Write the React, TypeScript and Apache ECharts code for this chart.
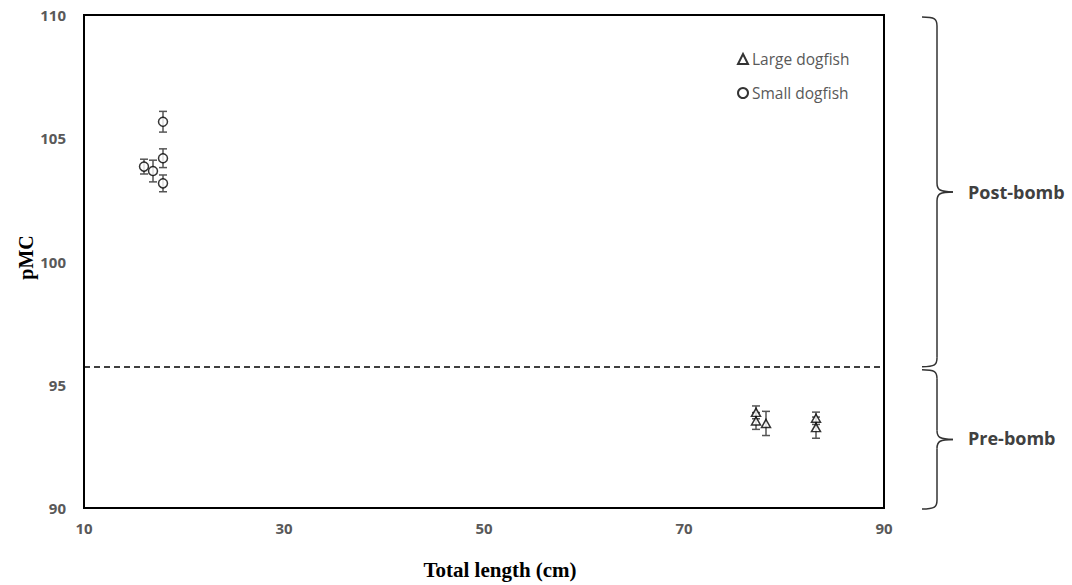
import React, { useEffect, useRef } from "react";
import * as echarts from "echarts";

// Total length (cm) and radiocarbon (pMC) with 1σ uncertainty
const smallLength = [17.9, 17.9, 16.0, 16.9, 17.9];
const smallPmc = [105.67, 104.19, 103.85, 103.67, 103.17];
const smallErr = [0.42, 0.38, 0.3, 0.44, 0.34];

const largeLength = [77.2, 77.2, 78.2, 83.2, 83.2];
const largePmc = [93.88, 93.53, 93.43, 93.64, 93.26];
const largeErr = [0.26, 0.34, 0.49, 0.25, 0.43];

// Bomb-pulse threshold and axis ranges
const bombThreshold = 95.73;
const xTicks = { min: 10, max: 90, interval: 20 };
const yTicks = { min: 90, max: 110, interval: 5 };
const periodLabels = ["Post-bomb", "Pre-bomb"];

const TICK_FONT = "'Open Sans', 'Liberation Sans', sans-serif";
const SERIF = "'Liberation Serif', 'DejaVu Serif', serif";

function errorRows(xs: number[], ys: number[], es: number[]) {
  return xs.map((x, i) => [x, ys[i] - es[i], ys[i] + es[i]]);
}

function errorBarItem(params: any, api: any) {
  const x = api.value(0);
  const lo = api.coord([x, api.value(1)]);
  const hi = api.coord([x, api.value(2)]);
  const cap = 4;
  const style = { stroke: "#555", lineWidth: 1.5 };
  return {
    type: "group",
    children: [
      { type: "line", shape: { x1: lo[0], y1: lo[1], x2: hi[0], y2: hi[1] }, style },
      { type: "line", shape: { x1: lo[0] - cap, y1: lo[1], x2: lo[0] + cap, y2: lo[1] }, style },
      { type: "line", shape: { x1: hi[0] - cap, y1: hi[1], x2: hi[0] + cap, y2: hi[1] }, style },
    ],
  };
}

// Curly brace from yTop to yBottom, spine at sx, opening to the left at ex, tip at tx
function brace(yTop: number, yBottom: number, ex: number, sx: number, tx: number) {
  const ym = (yTop + yBottom) / 2;
  const r = 9;
  const style = { stroke: "#333", lineWidth: 1.5, fill: null };
  return [
    { type: "bezierCurve", shape: { x1: ex, y1: yTop, cpx1: sx - 2, cpy1: yTop, cpx2: sx, cpy2: yTop + 2, x2: sx, y2: yTop + r }, style },
    { type: "line", shape: { x1: sx, y1: yTop + r, x2: sx, y2: ym - r }, style },
    { type: "bezierCurve", shape: { x1: sx, y1: ym - r, cpx1: sx, cpy1: ym - 2, cpx2: sx + 3, cpy2: ym, x2: tx, y2: ym }, style },
    { type: "bezierCurve", shape: { x1: tx, y1: ym, cpx1: sx + 3, cpy1: ym, cpx2: sx, cpy2: ym + 2, x2: sx, y2: ym + r }, style },
    { type: "line", shape: { x1: sx, y1: ym + r, x2: sx, y2: yBottom - r }, style },
    { type: "bezierCurve", shape: { x1: sx, y1: yBottom - r, cpx1: sx, cpy1: yBottom - 2, cpx2: sx - 2, cpy2: yBottom, x2: ex, y2: yBottom }, style },
  ];
}

export default function App() {
  const ref = useRef<HTMLDivElement>(null);

  useEffect(() => {
    if (!ref.current) return;
    const chart = echarts.init(ref.current, null, { renderer: "svg" });

    const markerStyle = { color: "#fff", borderColor: "#000", borderWidth: 1.5 };

    chart.setOption({
      animation: false,
      backgroundColor: "#fff",
      grid: {
        left: 84,
        right: 188,
        top: 15,
        bottom: 77,
        show: true,
        borderColor: "#000",
        borderWidth: 2,
        backgroundColor: "transparent",
      },
      legend: {
        orient: "vertical",
        left: 732,
        top: 45,
        itemWidth: 10,
        itemHeight: 10,
        itemGap: 16,
        data: ["Large dogfish", "Small dogfish"],
        textStyle: {
          fontFamily: TICK_FONT,
          fontSize: 15.5,
          color: "#595959",
          lineHeight: 18,
          padding: [0, 0, 0, -1],
        },
      },
      xAxis: {
        type: "value",
        min: xTicks.min,
        max: xTicks.max,
        interval: xTicks.interval,
        axisLine: { show: false },
        axisTick: { show: false },
        splitLine: { show: false },
        axisLabel: {
          margin: 12,
          fontFamily: TICK_FONT,
          fontWeight: "bold",
          fontSize: 15,
          color: "#595959",
        },
      },
      yAxis: {
        type: "value",
        min: yTicks.min,
        max: yTicks.max,
        interval: yTicks.interval,
        axisLine: { show: false },
        axisTick: { show: false },
        splitLine: { show: false },
        axisLabel: {
          margin: 18,
          fontFamily: TICK_FONT,
          fontWeight: "bold",
          fontSize: 15,
          color: "#595959",
        },
      },
      series: [
        {
          name: "Large dogfish err",
          type: "custom",
          renderItem: errorBarItem,
          data: errorRows(largeLength, largePmc, largeErr),
          z: 2,
          silent: true,
          markLine: {
            silent: true,
            symbol: "none",
            label: { show: false },
            lineStyle: { color: "#000", type: [6, 4], width: 1.5 },
            data: [{ yAxis: bombThreshold }],
          },
        },
        {
          name: "Small dogfish err",
          type: "custom",
          renderItem: errorBarItem,
          data: errorRows(smallLength, smallPmc, smallErr),
          z: 2,
          silent: true,
        },
        {
          name: "Large dogfish",
          type: "scatter",
          symbol: "triangle",
          symbolSize: [9, 8],
          itemStyle: markerStyle,
          data: largeLength.map((x, i) => [x, largePmc[i]]),
          z: 5,
        },
        {
          name: "Small dogfish",
          type: "scatter",
          symbol: "circle",
          symbolSize: 9,
          itemStyle: markerStyle,
          data: smallLength.map((x, i) => [x, smallPmc[i]]),
          z: 5,
        },
      ],
    });

    const yTop = chart.convertToPixel({ yAxisIndex: 0 }, yTicks.max) as number;
    const yBottom = chart.convertToPixel({ yAxisIndex: 0 }, yTicks.min) as number;
    const yThr = chart.convertToPixel({ yAxisIndex: 0 }, bombThreshold) as number;
    const xMid = (chart.convertToPixel({ xAxisIndex: 0 }, xTicks.min) as number +
      (chart.convertToPixel({ xAxisIndex: 0 }, xTicks.max) as number)) / 2;

    const ex = 922, sx = 937, tx = 953;
    const labelStyle = {
      fontFamily: TICK_FONT,
      fontWeight: "bold",
      fontSize: 18,
      fill: "#404040",
      verticalAlign: "middle",
      align: "left",
    };

    chart.setOption({
      graphic: [
        ...brace(yTop + 2, yThr, ex, sx, tx),
        ...brace(yThr + 3, yBottom + 1, ex, sx, tx),
        { type: "text", x: 968, y: (yTop + 2 + yThr) / 2, style: { ...labelStyle, text: periodLabels[0] } },
        { type: "text", x: 968, y: (yThr + 3 + yBottom + 1) / 2 - 1, style: { ...labelStyle, text: periodLabels[1] } },
        {
          type: "text",
          x: xMid + 16,
          y: 570,
          style: {
            text: "Total length (cm)",
            fontFamily: SERIF,
            fontWeight: "bold",
            fontSize: 21,
            fill: "#000",
            align: "center",
            verticalAlign: "middle",
          },
        },
        {
          type: "text",
          x: 26,
          y: (yTop + yBottom) / 2 - 4,
          rotation: Math.PI / 2,
          style: {
            text: "pMC",
            fontFamily: SERIF,
            fontWeight: "bold",
            fontSize: 20,
            fill: "#000",
            align: "center",
            verticalAlign: "middle",
          },
        },
      ],
    });

    return () => chart.dispose();
  }, []);

  return <div ref={ref} style={{ width: 1072, height: 585, position: "absolute", left: 0, top: 0 }} />;
}
